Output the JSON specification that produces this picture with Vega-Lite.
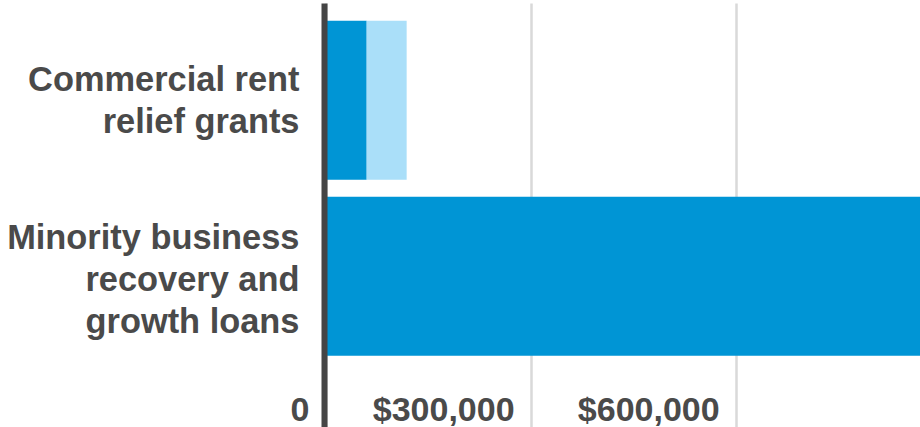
{
  "$schema": "https://vega.github.io/schema/vega-lite/v6.json",
  "width": 594,
  "height": 424,
  "autosize": {"type": "none"},
  "padding": {"left": 326, "top": 3, "right": 0, "bottom": 0},
  "background": "#ffffff",
  "config": {"view": {"stroke": null}},
  "data": {
    "values": [
      {"program": "Commercial rent relief grants", "part": "Part 1", "amount": 59500},
      {"program": "Commercial rent relief grants", "part": "Part 2", "amount": 58500},
      {"program": "Minority business recovery and growth loans", "part": "Part 1", "amount": 870000}
    ]
  },
  "mark": {"type": "bar"},
  "encoding": {
    "y": {
      "field": "program",
      "type": "nominal",
      "sort": null,
      "scale": {
        "domain": ["Commercial rent relief grants", "Minority business recovery and growth loans"],
        "paddingInner": 0.0966,
        "paddingOuter": 0.2528,
        "align": 0.199
      },
      "axis": {
        "title": null,
        "ticks": false,
        "domain": true,
        "domainColor": "#454545",
        "domainWidth": 6,
        "offset": 2,
        "labelFont": "Liberation Sans",
        "labelFontWeight": "bold",
        "labelFontSize": 34.4,
        "labelLineHeight": 42,
        "labelColor": "#4a4a4a",
        "labelPadding": 25,
        "labelLimit": 400,
        "labelOffset": {"condition": {"test": "datum.value == 'Commercial rent relief grants'", "value": -19}, "value": -37},
        "labelExpr": "datum.value == 'Commercial rent relief grants' ? ['Commercial rent', 'relief grants'] : ['Minority business', 'recovery and', 'growth loans']",
        "zindex": 2
      }
    },
    "x": {
      "field": "amount",
      "type": "quantitative",
      "stack": "zero",
      "scale": {"domain": [0, 869000], "nice": false, "zero": true},
      "axis": {
        "title": null,
        "values": [0, 300000, 600000],
        "domain": false,
        "ticks": false,
        "grid": true,
        "gridColor": "#d9d9d9",
        "gridWidth": 2.5,
        "labelFont": "Liberation Sans",
        "labelFontWeight": "bold",
        "labelFontSize": 34,
        "labelColor": "#4a4a4a",
        "labelAlign": "right",
        "labelBaseline": "alphabetic",
        "labelOffset": -17,
        "labelPadding": -7,
        "labelFlush": false,
        "labelOverlap": false,
        "labelExpr": "datum.value == 0 ? '0' : '$' + format(datum.value, ',')"
      }
    },
    "color": {
      "field": "part",
      "type": "nominal",
      "scale": {"domain": ["Part 1", "Part 2"], "range": ["#0095d5", "#aadff9"]},
      "legend": null
    },
    "order": {"field": "part", "sort": "ascending"}
  }
}
